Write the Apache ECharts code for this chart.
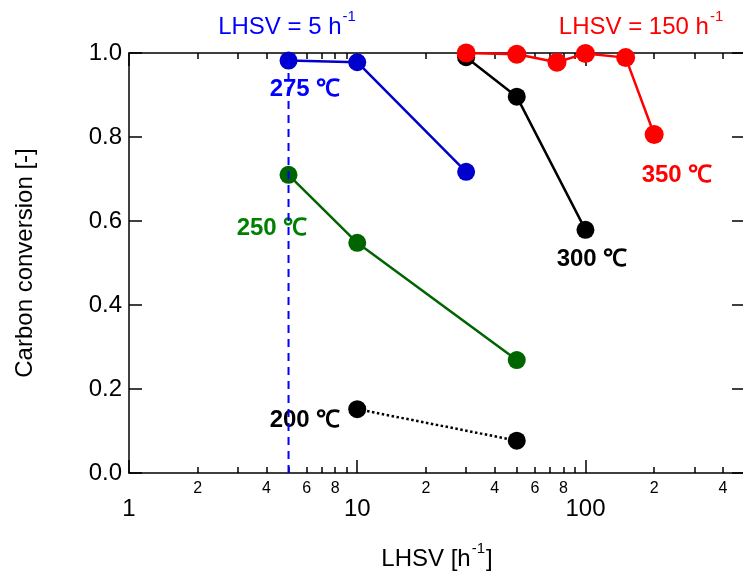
<!DOCTYPE html>
<html>
<head>
<meta charset="utf-8">
<script src="https://cdn.jsdelivr.net/npm/echarts@6/dist/echarts.min.js"></script>
<style>html,body{margin:0;padding:0;background:#fff}#c{width:743px;height:571px}</style>
</head>
<body>
<div id="c"></div>
<script>
// ---- data ----
const lhsv200 = [10, 50];
const conv200 = [0.152, 0.077];
const lhsv250 = [5, 10, 50];
const conv250 = [0.71, 0.548, 0.269];
const lhsv275 = [5, 10, 30];
const conv275 = [0.982, 0.978, 0.717];
const lhsv300 = [30, 50, 100];
const conv300 = [0.99, 0.896, 0.579];
const lhsv350 = [30, 50, 75, 100, 150, 200];
const conv350 = [1.0, 0.997, 0.978, 0.999, 0.989, 0.806];
const refLineX = [5, 5];
const refLineY = [0, 1];
const majorTicks = [1, 10, 100];
const minorTicks = [2, 3, 4, 5, 6, 7, 8, 9, 20, 30, 40, 50, 60, 70, 80, 90, 200, 300, 400];
const minorLabels = [2, 4, 6, 8, 20, 40, 60, 80, 200, 400];

const FONT = 'Liberation Sans, Arial, sans-serif';
const zip = (xs, ys) => xs.map((x, i) => [x, ys[i]]);

const chart = echarts.init(document.getElementById('c'), null, {renderer: 'canvas'});

const axisLine = {show: true, lineStyle: {color: '#000', width: 1.5}};
function xAx(pos, ticks, len, labels, extra) {
  return Object.assign({
    type: 'log', logBase: 10, min: 1, max: 500, position: pos,
    axisLine: axisLine,
    axisTick: {show: true, inside: true, length: len, lineStyle: {color: '#000', width: 1.5}, customValues: ticks},
    axisLabel: labels ? labels : {show: false},
    splitLine: {show: false}, minorTick: {show: false}, minorSplitLine: {show: false}
  }, extra || {});
}

function series(name, xs, ys, color, lineType, size) {
  return {
    name: name, type: 'line', data: zip(xs, ys),
    symbol: 'circle', symbolSize: size || 18,
    itemStyle: {color: color},
    lineStyle: {color: color, width: 2.5, type: lineType || 'solid'},
    z: 3
  };
}

const option = {
  animation: false,
  backgroundColor: '#fff',
  grid: {left: 129, right: -2, top: 53, bottom: 98, containLabel: false, outerBoundsMode: 'none'},
  xAxis: [
    xAx('bottom', majorTicks, 13, {show: true, customValues: majorTicks, fontSize: 24, fontFamily: FONT, color: '#000', margin: 24}, {
      name: '{a|LHSV [h}{s|-1}{a|]}', nameLocation: 'middle', nameGap: 68,
      nameTextStyle: {rich: {
        a: {fontSize: 24, fontFamily: FONT, color: '#000', verticalAlign: 'bottom', lineHeight: 30},
        s: {fontSize: 15, fontFamily: FONT, color: '#000', verticalAlign: 'top', lineHeight: 30, padding: [0, 1, 14, 1]}
      }}
    }),
    xAx('bottom', minorTicks, 6, {show: true, customValues: minorLabels, fontSize: 16, fontFamily: FONT, color: '#000', margin: 8,
      formatter: v => String(Math.round(v)).charAt(0)}, {axisLine: {show: false}}),
    xAx('top', majorTicks, 13, null),
    xAx('top', minorTicks, 6, null, {axisLine: {show: false}})
  ],
  yAxis: [
    {
      type: 'value', min: 0, max: 1, interval: 0.2, position: 'left',
      axisLine: axisLine,
      axisTick: {show: true, inside: true, length: 13, lineStyle: {color: '#000', width: 1.5}},
      axisLabel: {fontSize: 24, fontFamily: FONT, color: '#000', margin: 7, formatter: v => v.toFixed(1)},
      splitLine: {show: false},
      name: 'Carbon conversion [-]', nameLocation: 'middle', nameGap: 92, nameRotate: 90,
      nameTextStyle: {fontSize: 24, fontFamily: FONT, color: '#000'}
    },
    {
      type: 'value', min: 0, max: 1, interval: 0.2, position: 'right',
      axisLine: axisLine,
      axisTick: {show: true, inside: true, length: 13, lineStyle: {color: '#000', width: 1.5}},
      axisLabel: {show: false},
      splitLine: {show: false}
    }
  ],
  series: [
    series('200', lhsv200, conv200, '#000', 'dotted'),
    series('250', lhsv250, conv250, '#006400'),
    {
      name: 'ref', type: 'line', data: zip(refLineX, refLineY), symbol: 'none',
      lineStyle: {color: '#0000ff', width: 2, type: [8, 6]}, z: 4
    },
    series('275', lhsv275, conv275, '#0000cc'),
    series('300', lhsv300, conv300, '#000'),
    series('350', lhsv350, conv350, '#ff0000', 'solid', 19)
  ],
  graphic: [
    {type: 'text', x: 287, y: 24, z: 10, style: {
      text: '{a|LHSV = 5 h}{s|-1}', align: 'center', verticalAlign: 'middle',
      rich: {a: {fontSize: 24, fontFamily: FONT, fill: '#0000ff', verticalAlign: 'bottom', lineHeight: 30},
             s: {fontSize: 15, fontFamily: FONT, fill: '#0000ff', verticalAlign: 'top', lineHeight: 30, padding: [0, 0, 14, 1]}}}},
    {type: 'text', x: 641, y: 24, z: 10, style: {
      text: '{a|LHSV = 150 h}{s|-1}', align: 'center', verticalAlign: 'middle',
      rich: {a: {fontSize: 24, fontFamily: FONT, fill: '#ff0000', verticalAlign: 'bottom', lineHeight: 30},
             s: {fontSize: 15, fontFamily: FONT, fill: '#ff0000', verticalAlign: 'top', lineHeight: 30, padding: [0, 0, 14, 1]}}}},
    {type: 'text', x: 305, y: 89, z: 1, style: {text: '275 ℃', fontSize: 24, fontWeight: 'bold', fontFamily: FONT, fill: '#0000ff', align: 'center', verticalAlign: 'middle'}},
    {type: 'text', x: 272, y: 228, z: 1, style: {text: '250 ℃', fontSize: 24, fontWeight: 'bold', fontFamily: FONT, fill: '#008000', align: 'center', verticalAlign: 'middle'}},
    {type: 'text', x: 592, y: 259, z: 1, style: {text: '300 ℃', fontSize: 24, fontWeight: 'bold', fontFamily: FONT, fill: '#000', align: 'center', verticalAlign: 'middle'}},
    {type: 'text', x: 677, y: 175, z: 1, style: {text: '350 ℃', fontSize: 24, fontWeight: 'bold', fontFamily: FONT, fill: '#ff0000', align: 'center', verticalAlign: 'middle'}},
    {type: 'text', x: 305, y: 420, z: 1, style: {text: '200 ℃', fontSize: 24, fontWeight: 'bold', fontFamily: FONT, fill: '#000', align: 'center', verticalAlign: 'middle'}}
  ]
};
chart.setOption(option);
</script>
</body>
</html>
